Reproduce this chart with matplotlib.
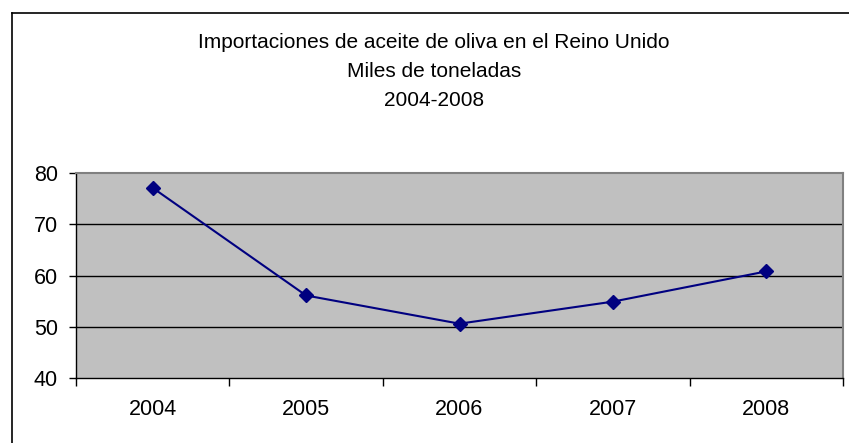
import matplotlib
matplotlib.use("Agg")
import matplotlib.pyplot as plt
from matplotlib.lines import Line2D

# data
years = ["2004", "2005", "2006", "2007", "2008"]
imports = [77.1, 56.1, 50.6, 54.9, 60.8]
y_ticks = [40, 50, 60, 70, 80]
title_lines = ["Importaciones de aceite de oliva en el Reino Unido",
               "Miles de toneladas",
               "2004-2008"]

plt.rcParams["font.family"] = ["Liberation Sans", "DejaVu Sans"]

W, H = 849, 443
fig = plt.figure(figsize=(W / 100, H / 100), dpi=100)
fig.patch.set_facecolor("white")

# outer chart border (only top and left are visible in the crop)
fig.add_artist(Line2D([12 / W, 1.0], [1 - 13 / H, 1 - 13 / H], color="black", lw=1.2))
fig.add_artist(Line2D([12 / W, 12 / W], [0.0, 1 - 13 / H], color="black", lw=1.2))

# title, three centred lines
for i, txt in enumerate(title_lines):
    fig.text(434 / W, 1 - (42 + i * 29.5) / H, txt, ha="center", va="center",
             fontsize=15, color="black")

ax = fig.add_axes([76 / W, (H - 378) / H, (843 - 76) / W, (378 - 173) / H])
ax.set_facecolor("#c0c0c0")

x = [i + 0.5 for i in range(len(years))]
ax.plot(x, imports, color="#000080", lw=1.5, marker="D", markersize=7.5,
        markerfacecolor="#000080", markeredgecolor="#000080", zorder=3)

ax.set_xlim(0, len(years))
ax.set_ylim(y_ticks[0], y_ticks[-1])
ax.set_yticks(y_ticks)
ax.set_yticklabels([str(v) for v in y_ticks])
for v in y_ticks[1:-1]:
    ax.axhline(v, color="black", lw=1.0, zorder=1)

# category boundaries get the tick marks, labels sit between them
ax.set_xticks(range(len(years) + 1))
ax.set_xticklabels([])
ax.set_xticks(x, minor=True)
ax.set_xticklabels(years, minor=True)
ax.tick_params(axis="x", which="major", length=6, width=1, direction="out", color="black")
ax.tick_params(axis="x", which="minor", length=0, pad=15, labelsize=15.5)
ax.tick_params(axis="y", length=5, width=1, direction="out", pad=8, labelsize=15.5)

for side in ("top", "right"):
    ax.spines[side].set_color("#808080")
    ax.spines[side].set_linewidth(1.5)
for side in ("left", "bottom"):
    ax.spines[side].set_color("black")
    ax.spines[side].set_linewidth(1.0)

fig.savefig("out.png", dpi=100)
